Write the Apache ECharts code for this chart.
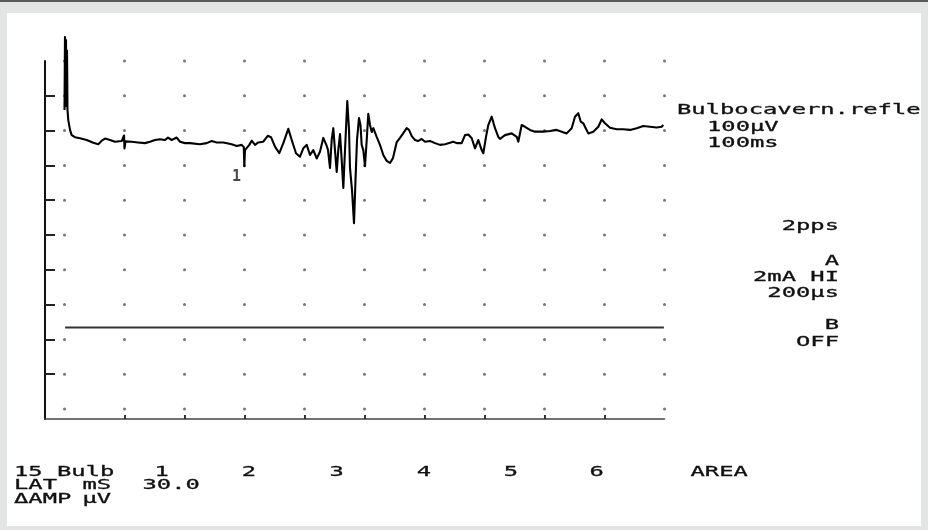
<!DOCTYPE html>
<html><head><meta charset="utf-8">
<script src="https://cdn.jsdelivr.net/npm/echarts@6/dist/echarts.min.js"></script>
<style>
html,body{margin:0;padding:0;background:#e3e5e4;}
#wrap{position:relative;width:928px;height:530px;overflow:hidden;background:#e3e5e4;}
#topbar{position:absolute;left:0;top:0;width:928px;height:2px;background:#5a5a5a;}
#panel{position:absolute;left:7px;top:13px;width:914px;height:513px;background:#fff;}
#chart{position:absolute;left:0;top:0;width:928px;height:530px;}
</style></head><body>
<div id="wrap"><div id="topbar"></div><div id="panel"></div><div id="chart"></div></div>
<script>
// Trace A: time (ms) and amplitude (µV, arbitrary offset)
const traceTime = [0.0,0.08,0.17,0.25,0.33,0.42,0.5,0.63,0.92,1.2,1.75,
2.58,3.7,4.8,5.63,6.2,6.75,7.58,8.42,9.53,9.83,
9.92,10.0,10.17,11.2,12.25,13.42,14.25,15.08,15.92,16.75,
17.25,17.87,18.7,19.25,20.08,20.92,22.58,23.7,24.53,25.37,
26.47,27.87,28.7,29.53,29.88,29.97,30.08,30.37,30.8,31.2,
31.75,32.3,33.13,33.87,34.42,35.08,35.8,36.47,37.3,37.87,
38.58,39.25,39.8,40.37,40.92,41.47,42.03,42.3,42.58,43.13,
43.7,43.92,44.25,44.53,44.8,45.08,45.37,45.63,45.92,46.2,
46.47,46.75,47.13,47.42,47.58,47.92,48.25,48.5,48.75,49.08,
49.33,49.53,49.8,50.08,50.37,50.63,50.92,51.2,51.47,52.03,
52.58,53.13,53.7,54.25,54.75,55.37,55.92,56.47,57.03,57.42,
57.87,58.42,58.92,59.53,60.08,60.92,61.75,62.58,63.42,64.25,
64.8,65.37,66.2,66.75,67.3,67.87,68.42,68.97,69.53,69.8,
70.25,70.63,71.2,71.75,72.3,72.58,73.42,74.53,75.37,75.63,
76.2,76.75,77.58,78.42,79.8,80.92,82.03,82.87,83.7,84.53,
85.08,85.63,86.03,86.47,86.87,87.3,88.13,88.97,89.53,90.08,
90.92,92.03,93.13,94.25,95.37,96.47,97.58,98.7,99.53,99.8];
const traceAmp = [359,569,420,560,370,530,359,330,302,287,281,
278,273,265,261,271,277,273,268,270,270,
286,249,269,268,266,264,268,273,275,273,
280,273,280,268,264,264,261,264,270,266,
266,261,256,259,253,198,244,244,259,271,
259,266,268,285,281,254,235,264,305,273,
235,225,249,259,230,244,220,216,239,279,
256,244,193,273,307,244,181,244,290,216,
135,244,385,302,193,129,34,158,273,336,
316,259,244,198,273,348,316,296,307,282,
259,230,213,207,221,267,279,293,307,302,
284,273,270,276,268,270,264,259,261,265,
268,264,264,287,289,278,249,273,244,235,
282,316,340,307,282,276,287,292,282,268,
316,311,302,297,297,299,302,297,292,307,
340,350,326,321,307,292,297,311,332,321,
308,304,304,302,307,313,311,309,311,316];
// Trace B (off): flat line
const traceBTime = [0.1, 99.9];
const traceBAmp = [-266, -266];
// Dot grid: 10 ms x 100 µV divisions
const gridTimes = [0,10,20,30,40,50,60,70,80,90,100];
const gridAmps = [-500,-400,-300,-200,-100,0,100,200,300,400,500];
const xTickValues = [10,20,30,40,50,60,70,80,90];
const yTickValues = [-400,-300,-200,-100,0,100,200,300,400];
// Latency marker
const markerNames = ['1'];
const markerTime = [30.0];
const markerAmp = [198];
// Text
const settingsLabels = ['Bulbocavern.refle','100µV','100ms'];
const stimLabels = ['2pps','A','2mA HI','200µs','B','OFF'];
const tableHeader = ['15 Bulb','1','2','3','4','5','6','AREA'];
const tableRows = [['LAT','mS','30.0'],['ΔAMP','µV']];

const FONT = '14px "DejaVu Sans Mono"';
function txt(s, x, y, align) {
  return {type:'text', x:x, y:y, scaleX:1.7, silent:true,
    style:{text:s, font:FONT, fill:'#111', stroke:'#111', lineWidth:0.3, textAlign:align||'left', textVerticalAlign:'middle', verticalAlign:'middle'}};
}
const graphics = [];
const settingsPos = [[677,110],[707,127.3],[707,143.7]];
settingsLabels.forEach((s,i)=>graphics.push(txt(s, settingsPos[i][0], settingsPos[i][1], 'left')));
const stimY = [226.5,261,277.5,293.8,325.5,342.8];
stimLabels.forEach((s,i)=>graphics.push(txt(s, 839, stimY[i], 'right')));
graphics.push(txt(tableHeader[0], 14, 472, 'left'));
const hdrX = [161.7,249,336.7,424,510.8,596.7];
for (let i=1;i<=6;i++) graphics.push(txt(tableHeader[i], hdrX[i-1], 472, 'center'));
graphics.push(txt(tableHeader[7], 690.5, 472, 'left'));
const colX = [14, 82.5, 142.5];
tableRows[0].forEach((s,i)=>graphics.push(txt(s, colX[i], 485.5, 'left')));
tableRows[1].forEach((s,i)=>graphics.push(txt(s, colX[i], 499, 'left')));

const dots = [];
gridTimes.forEach(t=>gridAmps.forEach(a=>dots.push([t,a])));

const chart = echarts.init(document.getElementById('chart'), null, {renderer:'canvas'});
chart.setOption({
  animation:false,
  backgroundColor:'transparent',
  grid:{left:45, right:263.5, top:61, bottom:111, containLabel:false},
  xAxis:{type:'value', min:-3.25, max:100,
    axisLine:{show:true, onZero:false, lineStyle:{color:'#444', width:1.5}},
    axisTick:{show:true, inside:true, length:4, customValues:xTickValues, lineStyle:{color:'#333', width:2}},
    axisLabel:{show:false}, splitLine:{show:false}},
  yAxis:{type:'value', min:-528.7, max:500,
    axisLine:{show:true, onZero:false, lineStyle:{color:'#111', width:2}},
    axisTick:{show:true, inside:true, length:10, customValues:yTickValues, lineStyle:{color:'#222', width:2}},
    axisLabel:{show:false}, splitLine:{show:false}},
  graphic: graphics,
  series:[
    {type:'scatter', data:dots, symbol:'circle', symbolSize:3, itemStyle:{color:'#555'}, silent:true, z:1},
    {type:'line', data:traceBTime.map((t,i)=>[t,traceBAmp[i]]), showSymbol:false, lineStyle:{color:'#333', width:2}, silent:true, z:2},
    {type:'line', data:traceTime.map((t,i)=>[t,traceAmp[i]]), showSymbol:false, clip:false, lineStyle:{color:'#000', width:2.1, join:'round'}, silent:true, z:3},
    {type:'scatter', data:markerTime.map((t,i)=>({value:[t,markerAmp[i]], name:markerNames[i]})), symbolSize:1, itemStyle:{color:'rgba(0,0,0,0)'}, silent:true, z:4,
      label:{show:true, position:'inside', formatter:p=>p.name, offset:[-8,11], fontSize:15, fontWeight:'bold', fontFamily:'DejaVu Sans Mono', color:'#1a1a1a'}}
  ]
});
</script>
</body></html>
